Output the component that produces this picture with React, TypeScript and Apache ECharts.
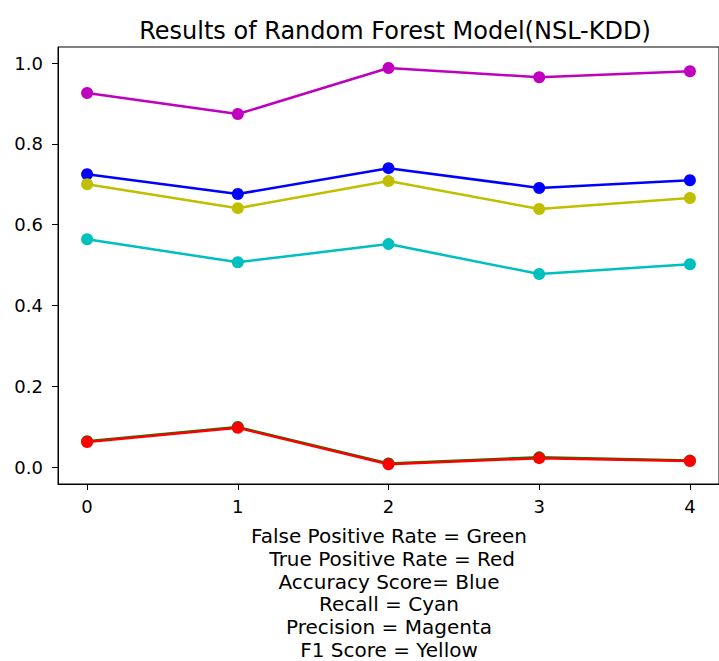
import React, { useEffect, useRef } from "react";
import * as echarts from "echarts";

const xs = [0, 1, 2, 3, 4];
const falsePositiveRate = [0.064, 0.099, 0.009, 0.024, 0.016];
const truePositiveRate = [0.062, 0.097, 0.007, 0.022, 0.015];
const accuracy = [0.725, 0.676, 0.740, 0.691, 0.710];
const recall = [0.564, 0.507, 0.552, 0.478, 0.502];
const precision = [0.926, 0.874, 0.988, 0.965, 0.980];
const f1 = [0.700, 0.641, 0.708, 0.639, 0.666];
const yTicks = [0, 0.2, 0.4, 0.6, 0.8, 1.0];
const captionLines = [
  "False Positive Rate = Green",
  " True Positive Rate = Red",
  "Accuracy Score= Blue",
  "Recall = Cyan",
  "Precision = Magenta",
  "F1 Score = Yellow",
];

const FONT = "DejaVu Sans";

export default function App() {
  const ref = useRef<HTMLDivElement>(null);
  useEffect(() => {
    if (!ref.current) return;
    const chart = echarts.init(ref.current, undefined, { renderer: "svg" });
    const mk = (name: string, vals: number[], color: string) => ({
      name,
      type: "line",
      data: xs.map((x, i) => [x, vals[i]]),
      symbol: "circle",
      symbolSize: 12,
      showSymbol: true,
      lineStyle: { color, width: 2.5 },
      itemStyle: { color },
      z: 2,
    });
    chart.setOption({
      animation: false,
      title: {
        text: "Results of Random Forest Model(NSL-KDD)",
        left: 390,
        top: 14,
        textAlign: "center",
        textStyle: { fontFamily: FONT, fontSize: 24, fontWeight: "normal", color: "#000" },
      },
      grid: {
        left: 58,
        top: 47,
        right: -9,
        bottom: 177,
        show: true,
        borderColor: "#000",
        borderWidth: 1,
        backgroundColor: "transparent",
      },
      xAxis: {
        type: "value",
        min: -0.193,
        max: 4.193,
        splitLine: { show: false },
        axisLine: { show: true, onZero: false, lineStyle: { color: "#000", width: 1 } },
        axisTick: { show: true, customValues: xs, length: 6, lineStyle: { color: "#000" } },
        axisLabel: {
          customValues: xs,
          margin: 13,
          fontFamily: FONT,
          fontSize: 18,
          color: "#000",
          formatter: (v: number) => String(Math.round(v)),
        },
      },
      yAxis: {
        type: "value",
        min: -0.042,
        max: 1.04,
        splitLine: { show: false },
        axisLine: { show: true, onZero: false, lineStyle: { color: "#000", width: 1 } },
        axisTick: { show: true, customValues: yTicks, length: 6, lineStyle: { color: "#000" } },
        axisLabel: {
          customValues: yTicks,
          margin: 15,
          fontFamily: FONT,
          fontSize: 18,
          color: "#000",
          formatter: (v: number) => v.toFixed(1),
        },
      },
      graphic: [
        {
          type: "text",
          x: 389,
          y: 525,
          style: {
            text: captionLines.join("\n"),
            fontFamily: FONT,
            fontSize: 20,
            lineHeight: 22.7,
            fill: "#000",
            textAlign: "center",
            textVerticalAlign: "top",
          },
        },
      ],
      series: [
        mk("False Positive Rate", falsePositiveRate, "#008000"),
        mk("True Positive Rate", truePositiveRate, "#ff0000"),
        mk("Accuracy Score", accuracy, "#0000ff"),
        mk("Recall", recall, "#00bfbf"),
        mk("Precision", precision, "#bf00bf"),
        mk("F1 Score", f1, "#bfbf00"),
      ],
    });
    return () => chart.dispose();
  }, []);
  return <div ref={ref} style={{ width: 719, height: 661, position: "absolute", left: 0, top: 0 }} />;
}
